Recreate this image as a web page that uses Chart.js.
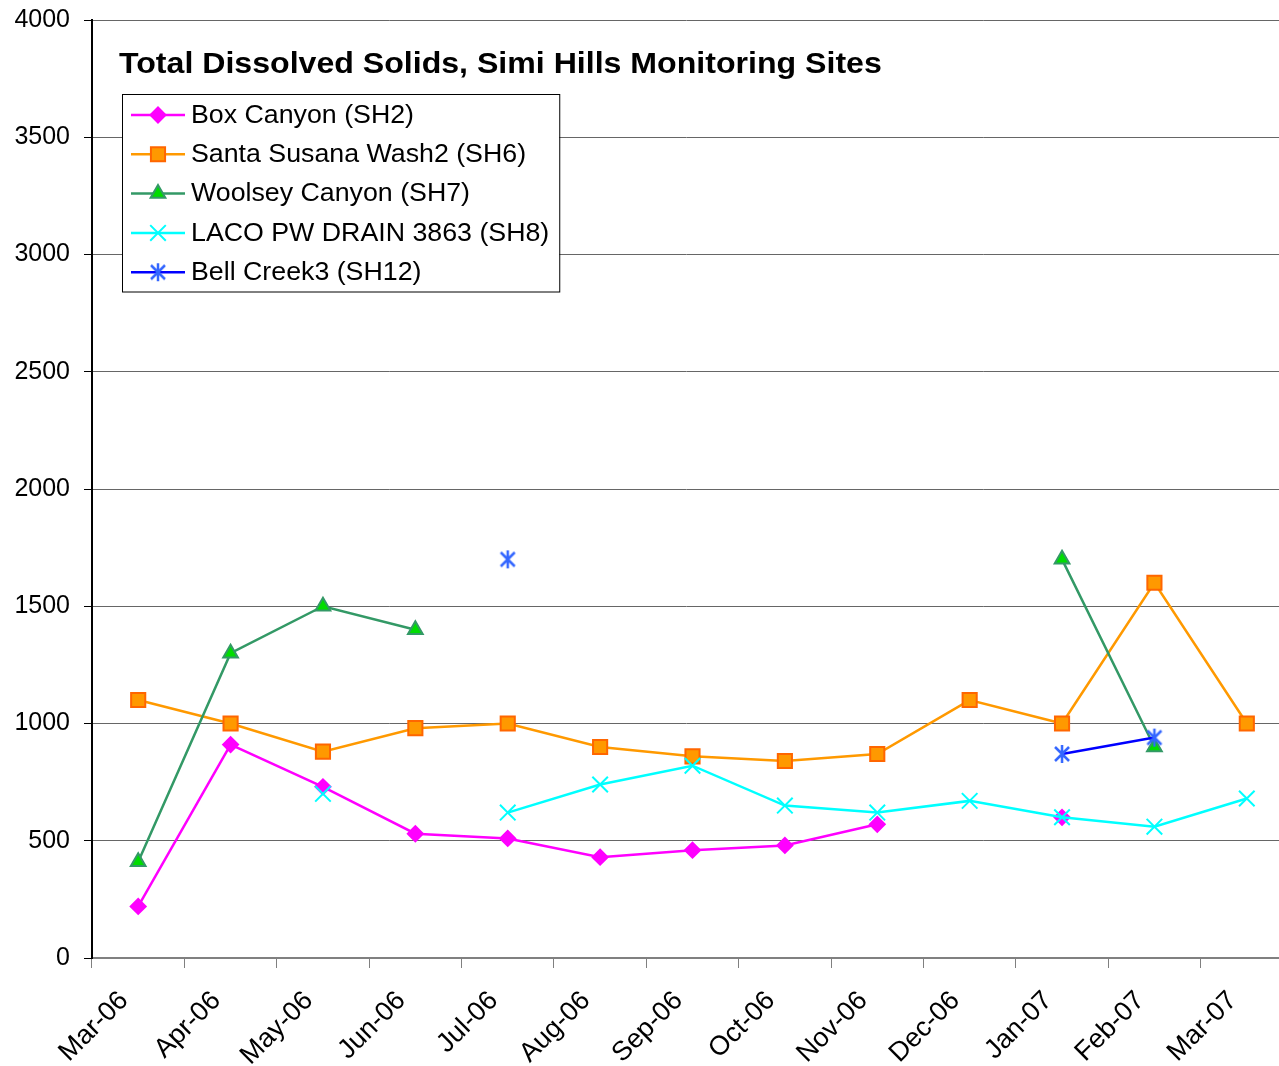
<!DOCTYPE html>
<html>
<head>
<meta charset="utf-8">
<script src="https://cdn.jsdelivr.net/npm/chart.js@4.4.0/dist/chart.umd.min.js"></script>
<style>
  html, body { margin: 0; padding: 0; background: #fff; }
</style>
</head>
<body>
<canvas id="tdsChart" width="1279" height="1066"></canvas>
<script>
// Categories and values (mg/L)
const months = ["Mar-06", "Apr-06", "May-06", "Jun-06", "Jul-06", "Aug-06", "Sep-06",
                "Oct-06", "Nov-06", "Dec-06", "Jan-07", "Feb-07", "Mar-07"];
const boxCanyon   = [220, 910, 730, 530, 510, 430, 460, 480, 570, null, 600, null, null];
const santaSusana = [1100, 1000, 880, 980, 1000, 900, 860, 840, 870, 1100, 1000, 1600, 1000];
const woolsey     = [410, 1300, 1500, 1400, null, null, null, null, null, null, 1700, 900, null];
const laco        = [null, null, 700, null, 620, 740, 820, 650, 620, 670, 600, 560, 680];
const bellCreek   = [null, null, null, null, 1700, null, null, null, null, null, 870, 940, null];
const yTicks = [0, 500, 1000, 1500, 2000, 2500, 3000, 3500, 4000];

const titleText = "Total Dissolved Solids, Simi Hills Monitoring Sites";
const fontFamily = '"Liberation Sans", Arial, sans-serif';
const stretch = 1.07; // the original chart is a bit wider than tall

// Six-armed asterisk marker used for Bell Creek
const asterisk = (() => {
  const c = document.createElement("canvas");
  c.width = 20;
  c.height = 20;
  const g = c.getContext("2d");
  g.strokeStyle = "#3366FF";
  g.lineWidth = 2.5;
  g.beginPath();
  g.moveTo(10, 1); g.lineTo(10, 19);
  g.moveTo(3, 3); g.lineTo(17, 17);
  g.moveTo(17, 3); g.lineTo(3, 17);
  g.stroke();
  return c;
})();

const wideText = (ctx, text, x, y) => {
  ctx.save();
  ctx.translate(x, y);
  ctx.scale(stretch, 1);
  ctx.fillText(text, 0, 0);
  ctx.restore();
};

// The original plot area runs a little past the right edge of the picture
const widenPlugin = {
  id: "widenPlot",
  afterLayout(chart) {
    const extra = 14;
    const x = chart.scales.x;
    x.right += extra;
    x.width += extra;
    x.configure();
    chart.chartArea.right += extra;
    chart.chartArea.width += extra;
  }
};

// Title sits inside the plot area, like the original
const titlePlugin = {
  id: "insideTitle",
  afterDatasetsDraw(chart) {
    const ctx = chart.ctx;
    ctx.save();
    ctx.font = "bold 30px " + fontFamily;
    ctx.fillStyle = "#000";
    ctx.textBaseline = "middle";
    ctx.textAlign = "left";
    wideText(ctx, titleText, 119, 65);
    ctx.restore();
  }
};

// Boxed legend in the top-left corner of the plot area
const legendPlugin = {
  id: "boxedLegend",
  afterDatasetsDraw(chart) {
    const ctx = chart.ctx;
    const sets = chart.data.datasets;
    const left = 122, top = 94, rowH = 39.3;
    ctx.save();
    ctx.font = "25px " + fontFamily;
    const textW = Math.max(...sets.map((d) => ctx.measureText(d.label).width)) * stretch;
    const boxW = 191 - left + textW + 10;
    const boxH = rowH * sets.length + 1;
    ctx.fillStyle = "#fff";
    ctx.fillRect(left, top, boxW, boxH);
    ctx.strokeStyle = "#000";
    ctx.lineWidth = 1;
    ctx.strokeRect(left + 0.5, top + 0.5, boxW, boxH);

    sets.forEach((d, i) => {
      const y = top + 21 + i * rowH;
      ctx.strokeStyle = d.borderColor;
      ctx.lineWidth = d.borderWidth;
      ctx.beginPath();
      ctx.moveTo(131, y);
      ctx.lineTo(185, y);
      ctx.stroke();
      ctx.fillStyle = d.pointBackgroundColor;
      ctx.strokeStyle = d.pointBorderColor;
      ctx.lineWidth = d.pointBorderWidth;
      Chart.helpers.drawPoint(ctx, { pointStyle: d.pointStyle, radius: d.pointRadius, rotation: 0, borderWidth: d.pointBorderWidth }, 158, y);
      ctx.fillStyle = "#000";
      ctx.textBaseline = "middle";
      ctx.textAlign = "left";
      wideText(ctx, d.label, 191, y + 1);
    });
    ctx.restore();
  }
};

const series = (label, data, line, fill, edge, style, radius, order) => ({
  label,
  data,
  borderColor: line,
  borderWidth: 2.5,
  pointStyle: style,
  pointRadius: radius,
  pointHoverRadius: radius,
  pointBackgroundColor: fill,
  pointBorderColor: edge,
  pointBorderWidth: 2,
  spanGaps: false,
  tension: 0,
  fill: false,
  order
});

new Chart(document.getElementById("tdsChart"), {
  type: "line",
  data: {
    labels: months,
    datasets: [
      series("Box Canyon (SH2)", boxCanyon, "#FF00FF", "#FF00FF", "#FF00FF", "rectRot", 7.5, 5),
      series("Santa Susana Wash2 (SH6)", santaSusana, "#FF9900", "#FF9900", "#FF6600", "rect", 10, 4),
      series("Woolsey Canyon (SH7)", woolsey, "#339966", "#00DD00", "#339966", "triangle", 8.5, 3),
      series("LACO PW DRAIN 3863 (SH8)", laco, "#00FFFF", "#00FFFF", "#00FFFF", "crossRot", 11, 2),
      series("Bell Creek3 (SH12)", bellCreek, "#0000FF", "#3366FF", "#3366FF", asterisk, 10, 1)
    ]
  },
  options: {
    responsive: false,
    animation: false,
    layout: { autoPadding: false, padding: { top: 20, right: 0, bottom: 0, left: 0 } },
    plugins: {
      legend: { display: false },
      title: { display: false },
      tooltip: { enabled: false }
    },
    scales: {
      x: {
        type: "category",
        offset: true,
        afterFit: (scale) => {
          scale.height = 108;
          scale.paddingLeft = 0;
          scale.paddingRight = 0;
        },
        grid: {
          offset: true,
          drawOnChartArea: false,
          drawTicks: true,
          tickLength: 10,
          color: "#808080",
          lineWidth: 1
        },
        border: { color: "#808080", width: 2 },
        ticks: {
          autoSkip: false,
          minRotation: 45,
          maxRotation: 45,
          padding: 17,
          labelOffset: -14,
          color: "#000",
          font: { family: fontFamily, size: 27 }
        }
      },
      y: {
        min: 0,
        max: 4000,
        afterFit: (scale) => {
          scale.width = 92;
          scale.paddingTop = 0;
          scale.paddingBottom = 0;
        },
        afterBuildTicks: (scale) => { scale.ticks = yTicks.map((v) => ({ value: v })); },
        grid: {
          color: "#666",
          lineWidth: 1,
          tickLength: 8,
          tickColor: "#000"
        },
        border: { color: "#000", width: 2 },
        ticks: {
          padding: 14,
          color: "#000",
          font: { family: fontFamily, size: 25 },
          callback: (v) => String(v)
        }
      }
    }
  },
  plugins: [widenPlugin, titlePlugin, legendPlugin]
});
</script>
</body>
</html>
